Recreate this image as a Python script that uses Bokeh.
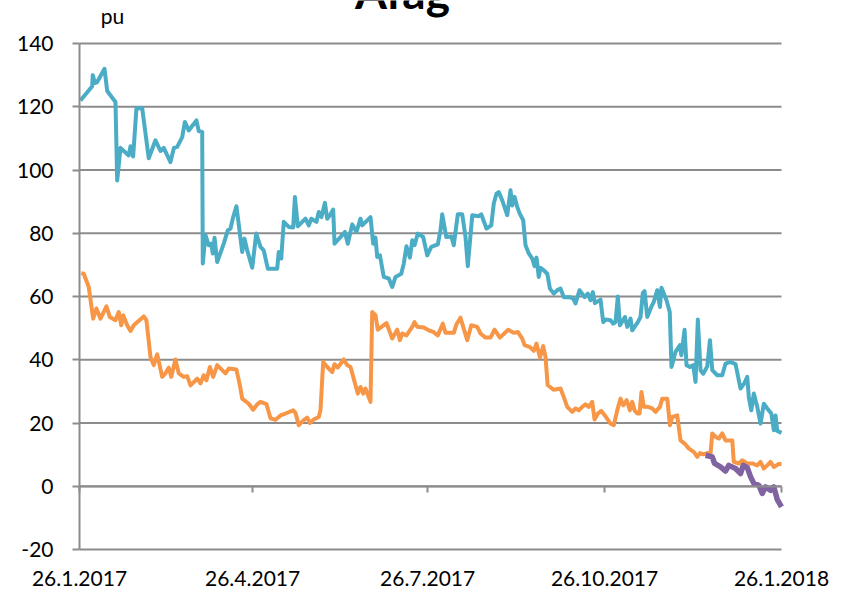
import pandas as pd
from bokeh.plotting import figure
from bokeh.models import Range1d, LinearAxis, FixedTicker, Label, Grid
from bokeh.embed import file_html
from bokeh.resources import INLINE

START = "2017-01-26"
tick_dates = ["2017-01-26", "2017-04-26", "2017-07-26", "2017-10-26", "2018-01-26"]
tick_labels = ["26.1.2017", "26.4.2017", "26.7.2017", "26.10.2017", "26.1.2018"]
y_ticks = [-20, 0, 20, 40, 60, 80, 100, 120, 140]
y_tick_labels = ["-20", "0", "20", "40", "60", "80", "100", "120", "140"]
title_text = "Afag"
unit_text = "pu"

# days since 26.1.2017
teal_days = [0.5, 6.6, 6.9, 8.0, 9.2, 13.0, 14.4, 18.7, 19.6, 21.3,
             25.6, 26.5, 27.9, 29.6, 32.6, 36.0, 39.5, 42.1, 43.8, 47.3,
             49.1, 50.8, 53.4, 54.8, 56.8, 60.8, 62.0, 63.8, 64.1, 65.5,
             67.2, 68.5, 69.3, 70.2, 71.6, 75.0, 77.1, 78.5, 79.9, 81.6,
             84.6, 85.8, 87.2, 89.8, 91.9, 94.1, 95.8, 97.9, 102.8, 103.6,
             104.9, 106.2, 108.8, 111.1, 112.0, 113.5, 115.8, 117.5, 119.2, 120.5,
             123.2, 124.4, 125.8, 127.6, 128.8, 130.2, 131.9, 132.6, 136.6, 138.0,
             139.5, 141.8, 144.0, 146.1, 147.0, 151.3, 152.7, 153.9, 154.8, 156.2,
             158.2, 160.8, 162.6, 164.3, 167.3, 168.6, 170.0, 171.8, 173.0, 174.2,
             175.9, 178.7, 180.8, 182.9, 186.3, 187.7, 188.6, 190.7, 193.3, 194.6,
             196.7, 199.0, 200.7, 201.9, 204.2, 207.6, 208.9, 211.6, 214.1, 215.4,
             216.8, 218.0, 219.8, 222.4, 224.1, 225.0, 226.2, 227.6, 228.9, 230.7,
             231.9, 233.6, 235.4, 236.6, 237.6, 238.8, 239.7, 241.4, 243.2, 244.6,
             246.6, 248.4, 250.1, 251.8, 255.0, 256.7, 257.9, 260.0, 262.6, 264.3,
             265.7, 266.9, 268.0, 270.9, 272.3, 273.5, 276.1, 277.5, 278.7, 279.9,
             281.0, 283.6, 284.8, 286.5, 287.4, 290.3, 291.7, 292.9, 293.8, 295.2,
             297.3, 298.6, 300.4, 301.8, 302.6, 305.2, 306.9, 307.8, 309.9, 312.2,
             312.9, 314.6, 315.6, 317.4, 319.1, 320.3, 321.5, 322.9, 324.3, 326.4,
             327.8, 329.0, 331.6, 334.2, 335.9, 338.5, 341.1, 343.7, 345.8, 347.2,
             348.0, 349.3, 350.6, 352.4, 354.1, 355.8, 357.6, 359.7, 361.0, 361.9,
             362.8, 365.0]
teal_vals = [122, 126.5, 130, 127.5, 127.8, 132, 125, 121.5, 96.7, 107,
             104.6, 107.5, 104.3, 119.5, 119.5, 103.7, 109.4, 106, 107, 102.5,
             107, 107.3, 110.4, 115.2, 112.5, 115.7, 112.3, 112, 70.4, 79.4,
             76.2, 76.7, 73.6, 78.6, 70.9, 76.7, 80.9, 81.5, 85.1, 88.5,
             74.1, 78.3, 74.6, 69.1, 79.9, 75.7, 74.6, 68.8, 68.8, 74.1,
             72, 83.6, 82, 81.8, 91.5, 82.2, 83.6, 84.6, 82.5, 84.6,
             83.6, 86.7, 85.1, 89.6, 84.6, 85.7, 87.5, 76.7, 79.4, 80.4,
             76.7, 82.8, 80.4, 84.6, 82.5, 85.1, 76.7, 78.6, 72.5, 73,
             66.2, 65.7, 63, 66.2, 67.2, 70.4, 75.9, 72.3, 77.8, 76.2,
             79.9, 78.8, 73, 75.7, 76.5, 80.9, 86, 78.8, 79, 76.2,
             86, 86, 78.8, 69.6, 85.7, 85.4, 86, 81.5, 82.5, 89.4,
             92.5, 93, 90.4, 85.7, 93.6, 88.8, 91.5, 88.3, 86.2, 84.1,
             76.2, 73.6, 72, 69.6, 72.3, 66.2, 69.1, 68.3, 67.2, 62.5,
             60.9, 62, 62.5, 59.8, 59.8, 59.3, 57.8, 62, 59.8, 60.9,
             58.8, 61.4, 57.9, 59, 51.9, 52.7, 52.5, 51.4, 51.9, 60,
             50.9, 53.5, 50.4, 53, 49.3, 51.9, 53.5, 61.1, 61.7, 53.5,
             56.7, 58.3, 62, 56.7, 62.8, 58.8, 55.1, 37.7, 42.5, 44.6,
             41.4, 49.5, 38.3, 37.7, 38.3, 33, 52.7, 36.7, 35.6, 37.9,
             46.2, 36.7, 35.1, 35.1, 38.8, 39.3, 38.6, 30.9, 32.7, 34.6,
             28.2, 24, 29.3, 25.1, 19.8, 26.1, 24.6, 23, 17.7, 22.4,
             17.5, 16.9]

orange_days = [0.9, 2.2, 4.8, 7.1, 8.8, 10.9, 14.0, 15.8, 18.7, 20.4,
               21.7, 22.7, 24.8, 26.5, 28.2, 33.4, 34.8, 36.9, 38.6, 40.4,
               43.0, 44.7, 46.4, 47.7, 49.9, 51.6, 54.2, 56.0, 57.7, 61.2,
               62.9, 64.6, 66.0, 67.8, 69.5, 71.6, 75.9, 77.6, 81.6, 83.4,
               84.6, 88.0, 90.3, 92.4, 94.1, 97.2, 99.3, 101.9, 104.5, 107.1,
               111.1, 112.3, 114.0, 116.6, 118.4, 119.8, 121.8, 124.4, 125.3, 126.7,
               128.8, 131.4, 132.6, 134.3, 137.4, 139.2, 140.9, 142.3, 144.7, 146.1,
               147.5, 148.7, 151.3, 152.2, 153.9, 155.1, 159.6, 162.6, 165.2, 166.6,
               167.8, 170.0, 173.0, 174.2, 175.6, 179.0, 181.6, 183.9, 186.3, 188.9,
               190.3, 194.6, 196.0, 198.1, 199.5, 201.6, 203.7, 206.8, 208.5, 211.1,
               213.7, 215.8, 218.6, 222.9, 225.8, 227.9, 230.2, 231.4, 234.2, 236.2,
               237.6, 239.4, 241.1, 242.3, 243.4, 246.5, 250.1, 251.8, 253.6, 256.2,
               257.9, 259.6, 261.4, 263.1, 264.8, 266.6, 267.8, 269.5, 271.3, 273.5,
               276.1, 277.8, 279.6, 281.3, 282.7, 284.5, 286.2, 287.4, 288.6, 290.0,
               291.2, 292.2, 293.4, 295.5, 297.8, 299.5, 301.8, 303.0, 305.6, 307.0,
               308.2, 310.8, 312.5, 314.6, 316.9, 319.5, 321.2, 322.6, 324.3, 326.4,
               328.1, 329.0, 330.7, 332.4, 334.2, 335.9, 339.4, 340.2, 342.8, 344.5,
               347.2, 349.8, 352.4, 354.1, 355.8, 357.6, 359.3, 361.0, 363.6, 365.0]
orange_vals = [67.4, 67.2, 63, 53, 56.2, 53, 56.9, 53.5, 52.5, 55.1,
               50.9, 54.1, 50.9, 49.1, 50.9, 53.7, 52.5, 40.9, 38.3, 41.7,
               34.6, 35.7, 37.5, 34.6, 40.1, 35.7, 34.6, 34.8, 31.9, 34,
               32.5, 35.1, 33.5, 37.7, 34.6, 38.3, 35.7, 37.2, 36.9, 31.9,
               27.7, 26.1, 24.2, 25.9, 26.7, 26.0, 21.5, 21.0, 22.4, 23,
               24, 23.2, 19.3, 20.9, 21.7, 20, 21.1, 21.9, 24, 39.3,
               37.7, 36.1, 38.6, 37.5, 40.1, 38.3, 37.7, 34.6, 29.3, 31.4,
               29.3, 30.9, 26.7, 55.1, 54.1, 49.5, 51.6, 46.7, 49.5, 46.2,
               48.3, 47.7, 50.4, 51.9, 50.4, 50.2, 49.3, 48.8, 47.7, 51.4,
               48.5, 48.5, 51.2, 53.3, 50.4, 46.2, 50.9, 50.4, 48.3, 47,
               47, 49.5, 47, 49.5, 48.5, 48.8, 46.7, 44.6, 44, 42.8,
               45.1, 40.7, 44.3, 40.9, 32, 30.5, 30.9, 28.2, 25.1, 23.5,
               24.6, 24, 25.1, 25.9, 25.1, 26.7, 21.1, 23, 23.8, 22.1,
               19.8, 19.3, 24, 27.7, 25.6, 27.2, 24, 26.7, 24, 23,
               23, 29.8, 25.1, 25.1, 24.6, 23.5, 25.1, 27.7, 27.7, 19.3,
               21.9, 22.4, 14.5, 13.5, 11.9, 10.8, 9.3, 10.5, 10.1, 10.5,
               10.3, 16.7, 15.6, 15.1, 16.7, 14.5, 14.5, 7.7, 7.2, 8.2,
               7.2, 7.2, 6.6, 7.7, 5.6, 6.6, 7.7, 6.1, 7, 7]

purple_days = [325.5, 329.0, 330.2, 333.3, 335.9, 337.6, 341.1, 343.7, 345.1, 347.2,
               349.0, 350.6, 353.2, 355.0, 356.7, 359.3, 361.0, 362.8, 364.5, 365.0]
purple_vals = [9.8, 9.3, 7.2, 6.1, 4.8, 6.6, 5.6, 4, 6.6, 5.9,
               2.9, 0.9, 0.3, -2.3, -0.2, -1.3, -0.2, -4.2, -6, -6.5]

TEAL = "#4BACC6"
ORANGE = "#F79646"
PURPLE = "#8064A2"
GRID = "#8C8C8C"
FONT = "Lato"

# canvas layout (pixels)
W, H = 852, 593
AX_LEFT, AX_RIGHT = 79, 781      # pixel columns of first / last date
AX_TOP, AX_BOTTOM = 43, 549      # pixel rows of top / bottom gridline


def to_dates(days):
    return pd.Timestamp(START) + pd.to_timedelta(days, unit="D")


tick_ts = [pd.Timestamp(d) for d in tick_dates]
tick_ms = [float(t.value // 10**6) for t in tick_ts]

# frame spans the whole canvas; ranges are widened so the axes sit where wanted
ms_per_px = (tick_ms[-1] - tick_ms[0]) / (AX_RIGHT - AX_LEFT)
x_start = tick_ms[0] - AX_LEFT * ms_per_px
x_end = tick_ms[-1] + (W - AX_RIGHT) * ms_per_px
u_per_px = (y_ticks[-1] - y_ticks[0]) / (AX_BOTTOM - AX_TOP)
y_start = y_ticks[0] - (H - AX_BOTTOM) * u_per_px
y_end = y_ticks[-1] + AX_TOP * u_per_px

p = figure(width=W, height=H, output_backend="svg", toolbar_location=None,
           x_axis_location=None, y_axis_location=None,
           x_range=Range1d(x_start, x_end), y_range=Range1d(y_start, y_end),
           min_border_left=0, min_border_right=0,
           min_border_top=0, min_border_bottom=0)
p.outline_line_color = None
p.background_fill_color = "white"
p.border_fill_color = "white"
p.center = [r for r in p.center if not isinstance(r, Grid)]

# horizontal gridlines between first and last date
n = len(y_ticks)
p.segment(x0=[tick_ms[0]] * n, x1=[tick_ms[-1]] * n, y0=y_ticks, y1=y_ticks,
          line_color=GRID, line_width=2)

yaxis = LinearAxis(fixed_location=tick_ms[0], ticker=FixedTicker(ticks=y_ticks),
                   major_label_overrides={v: s for v, s in zip(y_ticks, y_tick_labels)},
                   bounds=(y_ticks[0], y_ticks[-1]),
                   axis_line_color=GRID, axis_line_width=2,
                   major_tick_line_color=GRID, major_tick_line_width=2,
                   major_tick_out=7, major_tick_in=0, minor_tick_out=0, minor_tick_in=0,
                   major_label_standoff=19,
                   major_label_text_font=FONT, major_label_text_font_size="21px",
                   major_label_text_color="black")
p.add_layout(yaxis, "left")

# axis line at zero with tick marks (labels hidden)
zero_axis = LinearAxis(fixed_location=0, ticker=FixedTicker(ticks=tick_ms),
                       bounds=(tick_ms[0], tick_ms[-1]),
                       axis_line_color=GRID, axis_line_width=2,
                       major_tick_line_color=GRID, major_tick_line_width=2,
                       major_tick_out=6, major_tick_in=0, minor_tick_out=0, minor_tick_in=0,
                       major_label_text_alpha=0, major_label_text_font_size="1px")
p.add_layout(zero_axis, "below")

# date labels at the bottom
label_axis = LinearAxis(fixed_location=y_ticks[0], ticker=FixedTicker(ticks=tick_ms),
                        major_label_overrides={m: s for m, s in zip(tick_ms, tick_labels)},
                        axis_line_color=None, major_tick_line_color=None,
                        major_tick_out=0, major_tick_in=0, minor_tick_out=0, minor_tick_in=0,
                        major_label_standoff=21,
                        major_label_text_font=FONT, major_label_text_font_size="21px",
                        major_label_text_color="black")
p.add_layout(label_axis, "below")

p.line(to_dates(teal_days), teal_vals, line_color=TEAL, line_width=4, line_join="round")
p.line(to_dates(orange_days), orange_vals, line_color=ORANGE, line_width=4, line_join="round")
p.line(to_dates(purple_days), purple_vals, line_color=PURPLE, line_width=5.5, line_join="round")

p.add_layout(Label(x=402, y=H + 9, x_units="screen", y_units="screen", text=title_text,
                   text_align="center", text_baseline="alphabetic",
                   text_font=FONT, text_font_style="bold", text_font_size="46px",
                   text_color="black"))
p.add_layout(Label(x=112, y=H - 15, x_units="screen", y_units="screen", text=unit_text,
                   text_align="center", text_baseline="alphabetic",
                   text_font=FONT, text_font_size="21px", text_color="black"))

open("out.html", "w").write(file_html(p, INLINE))
